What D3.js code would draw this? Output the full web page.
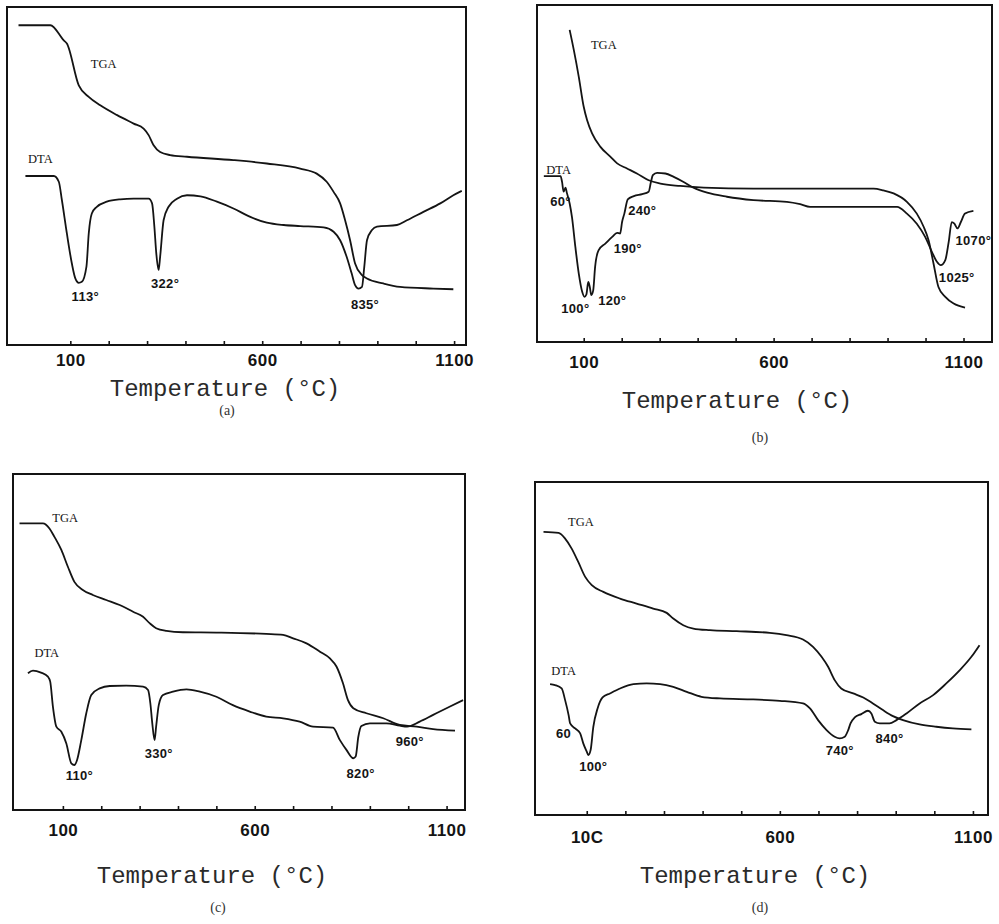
<!DOCTYPE html>
<html>
<head>
<meta charset="utf-8">
<script src="https://cdn.jsdelivr.net/npm/d3@7"></script>
<style>
  body { margin: 0; background: #fff; }
  svg { display: block; }
</style>
</head>
<body>
<div id="chart"></div>
<script>
// temperature (°C), signal (arbitrary units, 0-100 of frame height)
var tgaA = [[-35,94.6],[48,94.6],[83,90.1],[91,89.2],[122,76.8],[148,73.4],[178,70.9],[222,68.0],[265,65.5],[291,64.0],[304,62.1],[317,59.1],[334,57.1],[360,56.2],[404,55.7],[525,54.7],[612,53.7],[699,52.2],[742,50.7],[768,48.3],[786,45.3],[803,41.9],[816,36.9],[829,31.0],[842,24.1],[860,20.7],[873,19.7],[916,18.2],[959,17.2],[1046,16.7],[1098,16.5]];
var dtaA = [[-17,50.0],[57,50.0],[70,48.3],[78,42.9],[91,33.0],[104,24.1],[113,19.7],[122,18.4],[130,18.7],[142,23.2],[148,33.0],[156,38.9],[169,40.9],[195,42.4],[230,43.1],[265,43.3],[304,43.3],[313,41.9],[319,35.0],[324,27.1],[330,22.2],[334,26.1],[343,36.9],[356,40.9],[378,43.3],[404,44.3],[439,44.0],[482,42.4],[525,40.4],[569,37.9],[612,36.2],[656,35.5],[699,35.2],[760,34.8],[786,33.5],[803,31.0],[820,26.1],[833,21.2],[842,17.7],[851,16.7],[860,17.2],[866,23.2],[873,31.0],[886,34.0],[899,35.0],[951,35.5],[977,36.9],[1020,39.4],[1064,41.9],[1098,44.3],[1120,45.6]];

var tgaB = [[63,92.6],[74,86.6],[87,78.7],[100,69.8],[109,65.8],[122,61.9],[144,57.9],[170,55.0],[188,53.0],[214,51.5],[240,50.0],[271,48.0],[302,47.0],[354,46.3],[416,45.8],[547,45.5],[723,45.5],[863,45.5],[889,45.0],[916,44.1],[951,41.6],[977,38.1],[995,34.2],[1008,30.2],[1021,23.3],[1034,16.3],[1052,13.4],[1074,11.4],[1104,10.2]];
var dtaB = [[-5,49.2],[39,49.2],[43,47.5],[47,44.6],[52,45.8],[56,44.1],[63,41.1],[69,37.1],[78,28.2],[87,20.3],[96,14.9],[102,13.4],[107,14.1],[112,17.8],[116,16.3],[120,13.9],[125,15.3],[130,22.3],[139,27.2],[157,29.2],[175,31.2],[188,32.4],[196,32.2],[201,35.6],[207,38.1],[216,42.3],[232,43.3],[254,43.9],[271,44.6],[277,47.5],[282,49.5],[293,50.2],[315,50.0],[337,49.0],[363,47.5],[389,45.8],[425,44.3],[477,43.1],[547,42.1],[635,41.6],[670,40.9],[696,40.1],[811,40.1],[925,40.1],[951,38.1],[977,35.1],[999,31.2],[1017,26.7],[1030,23.8],[1040,22.8],[1052,24.3],[1061,29.7],[1069,35.6],[1076,35.1],[1084,33.7],[1093,35.6],[1104,38.1],[1126,38.9]];

var tgaC = [[-13,85.3],[48,85.3],[65,83.8],[78,81.3],[96,77.4],[113,72.4],[130,67.9],[152,65.5],[178,64.0],[213,62.5],[248,61.0],[283,59.0],[309,57.5],[326,55.6],[343,54.1],[370,53.3],[413,52.9],[500,52.8],[630,52.4],[674,52.1],[700,51.1],[735,49.6],[770,47.1],[796,45.1],[813,42.7],[830,37.7],[843,32.7],[857,30.3],[891,28.8],[935,27.3],[978,25.3],[1022,24.8],[1065,24.1],[1122,23.6]];
var dtaC = [[9,40.7],[22,41.5],[43,40.9],[61,39.7],[67,38.2],[74,30.8],[83,24.8],[96,23.3],[109,19.8],[122,13.9],[130,13.4],[137,14.9],[148,20.8],[161,28.8],[174,34.2],[196,36.2],[222,36.9],[265,37.0],[309,36.7],[322,35.7],[328,31.7],[333,25.8],[339,20.8],[343,24.8],[350,31.3],[361,34.2],[387,35.2],[422,35.9],[457,35.2],[500,33.7],[543,31.2],[587,29.3],[630,27.8],[674,27.3],[717,26.3],[752,24.8],[804,24.5],[822,20.8],[839,17.9],[857,15.4],[863,15.9],[870,21.8],[878,25.0],[900,25.8],[943,25.8],[978,25.1],[997,24.8],[1030,26.3],[1065,28.3],[1109,30.8],[1143,32.7]];

var tgaD = [[-12,85.0],[27,84.7],[44,83.0],[61,80.0],[78,76.0],[96,71.5],[113,69.0],[143,67.0],[186,65.0],[229,63.5],[272,62.0],[307,60.7],[324,59.0],[350,57.0],[376,56.0],[419,55.5],[488,55.2],[574,54.7],[617,54.0],[660,52.7],[686,50.5],[708,47.5],[725,44.5],[742,40.5],[759,38.0],[790,36.5],[816,35.3],[841,33.5],[867,31.5],[893,29.7],[919,28.5],[962,27.2],[1005,26.5],[1048,26.0],[1096,25.7]];
var dtaD = [[5,39.3],[18,39.0],[35,38.0],[44,34.5],[53,30.0],[57,27.5],[70,26.0],[83,24.5],[91,21.5],[100,19.0],[104,18.0],[110,19.5],[117,26.5],[128,32.0],[141,35.3],[160,36.5],[186,38.0],[221,39.3],[255,39.5],[290,39.3],[324,38.5],[359,37.0],[397,35.5],[445,35.0],[531,34.7],[600,34.3],[660,33.5],[678,32.0],[699,28.5],[721,25.5],[742,23.5],[755,23.0],[768,23.5],[777,25.5],[783,27.5],[794,29.3],[811,30.3],[828,31.3],[837,30.5],[846,28.0],[859,27.5],[884,27.5],[902,28.5],[928,30.5],[962,33.5],[997,36.0],[1031,39.5],[1066,43.5],[1096,47.5],[1117,51.0]];

// curve names and peak labels: [text, temperature, signal]
var namesA = [['TGA',187,83.3],['DTA',22,55.2]];
var peaksA = [['113°',139,14.3],['322°',347,18.2],['835°',868,12.1]];
var namesB = [['TGA',153,88.1],['DTA',34,51.2]];
var peaksB = [['60°',39,41.6],['100°',78,9.9],['120°',175,12.4],['190°',216,27.7],['240°',254,38.9],['1025°',1082,19.3],['1070°',1126,30.0]];
var namesC = [['TGA',106,87.1],['DTA',58,46.9]];
var peaksC = [['110°',143,10.4],['330°',350,16.9],['820°',876,10.9],['960°',1004,20.3]];
var namesD = [['TGA',85,88.2],['DTA',40,43.5]];
var peaksD = [['60',40,24.5],['100°',117,14.5],['740°',755,19.5],['840°',884,23.0]];

var tickVals = [100,200,300,400,500,600,700,800,900,1000,1100];
var tickLabelsA = {100:'100',600:'600',1100:'1100'};
var tickLabelsD = {100:'10C',600:'600',1100:'1100'};
var captions = ['(a)','(b)','(c)','(d)'];
var xTitle = 'Temperature (°C)';

var width = 999, height = 924;
var ink = '#141414';

var svg = d3.select('#chart').append('svg')
    .attr('width', width)
    .attr('height', height);

var panels = [
    {l:7, r:466, t:7, b:345, dom:[-65,1131], tga:tgaA, dta:dtaA, names:namesA, peaks:peaksA, ticks:tickLabelsA, pad:9, titleX:225, titleY:396, capX:227, capY:415},
    {l:537, r:992, t:5, b:342, dom:[-23,1175], tga:tgaB, dta:dtaB, names:namesB, peaks:peaksB, ticks:tickLabelsA, pad:14, titleX:737, titleY:408, capX:760, capY:442},
    {l:13, r:465, t:474, b:810, dom:[-30,1148], tga:tgaC, dta:dtaC, names:namesC, peaks:peaksC, ticks:tickLabelsA, pad:14, titleX:212, titleY:883, capX:218, capY:912},
    {l:535, r:988, t:482, b:815, dom:[-34,1139], tga:tgaD, dta:dtaD, names:namesD, peaks:peaksD, ticks:tickLabelsD, pad:16, titleX:755, titleY:883, capX:760, capY:912}
];

panels.forEach(function(p, i) {
    var g = svg.append('g').attr('class', 'panel');
    var x = d3.scaleLinear().domain(p.dom).range([p.l, p.r]);
    var y = d3.scaleLinear().domain([0, 100]).range([p.b, p.t]);

    // frame
    g.append('rect')
        .attr('x', p.l).attr('y', p.t)
        .attr('width', p.r - p.l).attr('height', p.b - p.t)
        .attr('fill', 'none')
        .attr('stroke', ink)
        .attr('stroke-width', 2);

    // bottom axis, inward ticks
    var axis = g.append('g')
        .attr('transform', 'translate(0,' + p.b + ')')
        .call(d3.axisBottom(x)
            .tickValues(tickVals)
            .tickSizeInner(-4)
            .tickSizeOuter(0)
            .tickPadding(p.pad)
            .tickFormat(function(d) { return p.ticks[d] || ''; }));
    axis.select('.domain').remove();
    axis.selectAll('line').attr('stroke', ink).attr('stroke-width', 1.6);
    axis.selectAll('text')
        .attr('fill', ink)
        .style('font-family', '"Liberation Sans", Arial, sans-serif')
        .style('font-weight', 'bold')
        .style('font-size', '17px')
        .style('letter-spacing', '0.5px');

    var line = d3.line()
        .x(function(d) { return x(d[0]); })
        .y(function(d) { return y(d[1]); })
        .curve(d3.curveMonotoneX);

    [p.tga, p.dta].forEach(function(series) {
        g.append('path')
            .datum(series)
            .attr('d', line)
            .attr('fill', 'none')
            .attr('stroke', ink)
            .attr('stroke-width', 1.8)
            .attr('stroke-linejoin', 'round');
    });

    g.selectAll('.name')
        .data(p.names)
        .enter().append('text')
        .attr('class', 'name')
        .attr('x', function(d) { return x(d[1]); })
        .attr('y', function(d) { return y(d[2]); })
        .attr('dy', '0.35em')
        .attr('text-anchor', 'middle')
        .attr('fill', ink)
        .style('font-family', '"Liberation Serif", "Times New Roman", serif')
        .style('font-size', '12.5px')
        .text(function(d) { return d[0]; });

    g.selectAll('.peak')
        .data(p.peaks)
        .enter().append('text')
        .attr('class', 'peak')
        .attr('x', function(d) { return x(d[1]); })
        .attr('y', function(d) { return y(d[2]); })
        .attr('dy', '0.35em')
        .attr('text-anchor', 'middle')
        .attr('fill', ink)
        .style('font-family', '"Liberation Sans", Arial, sans-serif')
        .style('font-weight', 'bold')
        .style('font-size', '13px')
        .style('letter-spacing', '0.3px')
        .text(function(d) { return d[0]; });

    g.append('text')
        .attr('x', p.titleX)
        .attr('y', p.titleY)
        .attr('text-anchor', 'middle')
        .attr('fill', '#2a2a2a')
        .style('font-family', '"Liberation Mono", "Courier New", monospace')
        .style('font-size', '24px')
        .text(xTitle);

    g.append('text')
        .attr('x', p.capX)
        .attr('y', p.capY)
        .attr('text-anchor', 'middle')
        .attr('fill', '#333')
        .style('font-family', '"Liberation Serif", "Times New Roman", serif')
        .style('font-size', '14px')
        .text(captions[i]);
});
</script>
</body>
</html>
